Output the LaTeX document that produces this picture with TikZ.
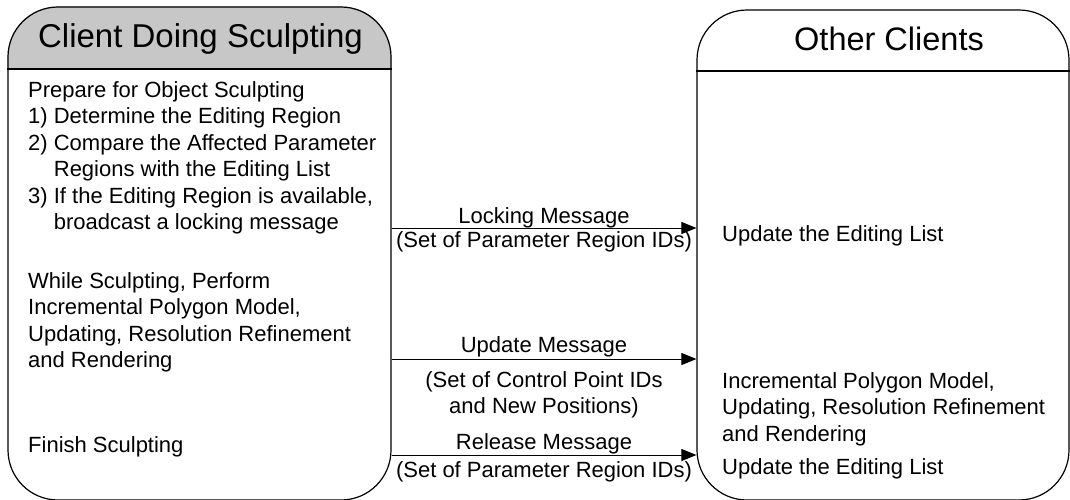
\documentclass[tikz,border=0pt]{standalone}
\usepackage{fontspec}
\setmainfont{Liberation Sans}
\usetikzlibrary{arrows.meta,backgrounds,positioning}
\tikzset{
  panel/.style={draw,line width=1.2pt,rounded corners=50pt,inner sep=0pt},
  headfill/.style={fill=black!22},
  title/.style={anchor=base,inner sep=0pt,font=\fontsize{32.5}{38}\selectfont},
  txt/.style={anchor=base west,align=left,inner sep=0pt,font=\fontsize{22}{26.5}\selectfont},
  msgtxt/.style={anchor=base,align=center,inner sep=0pt,font=\fontsize{22}{26}\selectfont},
  msg/.style={-{Triangle[length=15pt,width=12pt]},line width=1pt}
}
\begin{document}
\begin{tikzpicture}[x=1pt,y=-1pt]
\useasboundingbox (0,0) rectangle (1070,499);
\node[panel,minimum width=383pt,minimum height=493pt] (client) at (199.5,253.5) {};
\node[panel,minimum width=372pt,minimum height=490pt] (others) at (883,255) {};
\coordinate (lhead) at (0,69);
\coordinate (rhead) at (0,71);
\begin{scope}[on background layer]
  \clip[rounded corners=50pt] (client.north west) rectangle (client.south east);
  \fill[headfill] (client.north west) rectangle (client.east |- lhead);
\end{scope}
\begin{scope}[on background layer]
  \clip[rounded corners=50pt] (others.north west) rectangle (others.south east);
  \fill[headfill] (others.north west) rectangle (others.east |- rhead);
\end{scope}
\draw[line width=1.2pt] (client.west |- lhead) -- (client.east |- lhead);
\draw[line width=1.2pt] (others.west |- rhead) -- (others.east |- rhead);
\node[title,font=\fontsize{33}{38}\selectfont] (clienttitle) at (200.5,47) {Client Doing Sculpting};
\node[title] (otherstitle) at (889,50) {Other Clients};
\node[txt] (prepare) at (28,229.5) {Prepare for Object Sculpting\\
  1) Determine the Editing Region\\
  2) Compare the Affected Parameter\\
  \phantom{2) }Regions with the Editing List\\
  3) If the Editing Region is available,\\
  \phantom{3) }broadcast a locking message};
\node[txt] (sculpt) at (28,367.5) {While Sculpting, Perform\\
  Incremental Polygon Model,\\
  Updating, Resolution Refinement\\
  and Rendering};
\node[txt] (finish) at (28,452) {Finish Sculpting};
\node[txt] (update1) at (722,241) {Update the Editing List};
\node[txt] (render) at (722,441) {Incremental Polygon Model,\\
  Updating, Resolution Refinement\\
  and Rendering};
\node[txt] (update2) at (722,474) {Update the Editing List};
\coordinate (locky) at (0,228);
\coordinate (updy) at (0,359);
\coordinate (rely) at (0,455);
\draw[msg] (client.east |- locky) -- (others.west |- locky);
\draw[msg] (client.east |- updy) -- (others.west |- updy);
\draw[msg] (client.east |- rely) -- (others.west |- rely);
\node[msgtxt] (lockname) at (544,223) {Locking Message};
\node[msgtxt] (lockdata) at (544,247) {(Set of Parameter Region IDs)};
\node[msgtxt] (updname) at (544,352) {Update Message};
\node[msgtxt] (upddata) at (544,413) {(Set of Control Point IDs\\and New Positions)};
\node[msgtxt] (relname) at (544,449) {Release Message};
\node[msgtxt] (reldata) at (544,477) {(Set of Parameter Region IDs)};
\end{tikzpicture}
\end{document}
